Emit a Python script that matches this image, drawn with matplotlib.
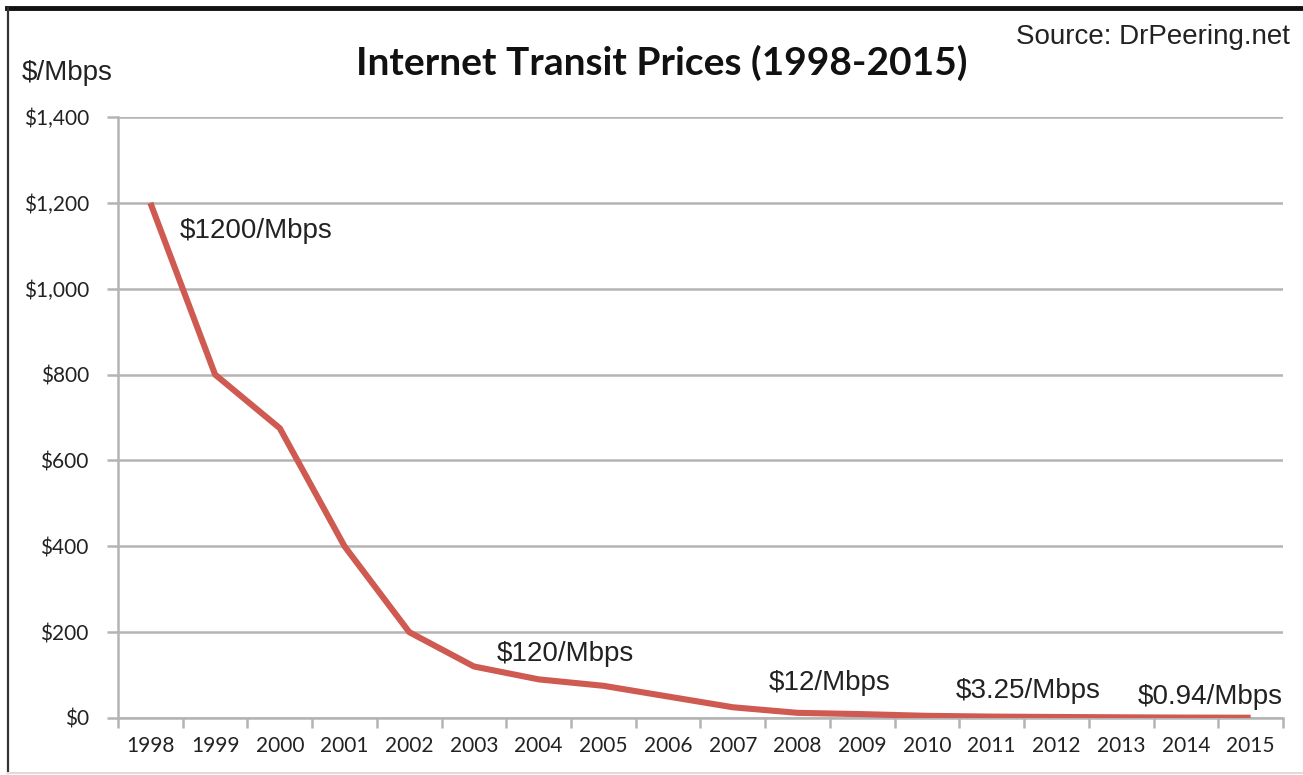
"""Internet transit prices 1998-2015 (DrPeering) — line chart recreation."""
import matplotlib

matplotlib.use("Agg")
import matplotlib.pyplot as plt  # noqa: E402
from matplotlib.lines import Line2D  # noqa: E402
from matplotlib.ticker import FuncFormatter, MultipleLocator  # noqa: E402

years = [str(y) for y in range(1998, 2016)]
price = [1200, 800, 675, 400, 200, 120, 90, 75, 50, 25, 12, 9, 5, 3.25,
         2.34, 1.57, 0.94, 0.63]

# callouts: (text, x position in category units, y value)
callouts = [
    ("$1200/Mbps", 0.95, 1135),
    ("$120/Mbps", 5.85, 150),
    ("$12/Mbps", 10.05, 82),
    ("$3.25/Mbps", 12.95, 63),
    ("$0.94/Mbps", 15.75, 48),
]

RED = "#cf5a52"
GRID = "#b4b4b4"
TXT = "#222222"
TICK_FONT = ["Lato", "DejaVu Sans"]
ARIAL = ["Liberation Sans", "DejaVu Sans"]

fig = plt.figure(figsize=(13.03, 7.75), dpi=100)
ax = fig.add_axes([118 / 1303, 57 / 775, 1165 / 1303, 601 / 775])

x = [i + 0.5 for i in range(len(years))]
ax.plot(x, price, color=RED, lw=4.4, solid_joinstyle="round",
        solid_capstyle="butt", zorder=3)

ax.set_xlim(0, len(years))
ax.set_ylim(0, 1400)
ax.yaxis.set_major_locator(MultipleLocator(200))
ax.yaxis.set_major_formatter(FuncFormatter(lambda v, _: f"${v:,.0f}"))
ax.set_xticks(range(len(years) + 1))
ax.set_xticklabels([])
ax.set_xticks(x, minor=True)
ax.set_xticklabels(years, minor=True)

ax.grid(axis="y", color=GRID, lw=1.8, zorder=0)
for s in ("top", "right"):
    ax.spines[s].set_visible(False)
for s in ("left", "bottom"):
    ax.spines[s].set_color(GRID)
    ax.spines[s].set_linewidth(1.8)
ax.tick_params(axis="y", which="major", length=8, width=1.8, color=GRID,
               pad=13, labelsize=15, labelcolor=TXT)
ax.tick_params(axis="x", which="major", length=7, width=1.8, color=GRID,
               direction="out")
ax.tick_params(axis="x", which="minor", length=0, pad=13, labelsize=15,
               labelcolor=TXT)
for lab in ax.get_yticklabels() + ax.get_xticklabels(minor=True):
    lab.set_family(TICK_FONT)

for text, cx, cy in callouts:
    ax.text(cx, cy, text, fontsize=20, family=ARIAL, color=TXT,
            ha="left", va="center", zorder=4, clip_on=False)

fig.text(0.508, 1 - 63 / 775, "Internet Transit Prices (1998-2015)",
         ha="center", va="center", fontsize=28, fontweight="bold",
         family=TICK_FONT, color="#111111")
fig.text(22 / 1303, 1 - 73 / 775, "$/Mbps", ha="left", va="center",
         fontsize=20, family=ARIAL, color=TXT)
fig.text(1290 / 1303, 1 - 37 / 775, "Source: DrPeering.net", ha="right",
         va="center", fontsize=20, family=ARIAL, color=TXT)

# outer frame of the screenshot
fig.add_artist(Line2D([7 / 1303, 1], [1 - 8 / 775] * 2, color="#111111",
                      lw=3.5, transform=fig.transFigure))
fig.add_artist(Line2D([8 / 1303] * 2, [2 / 775, 1 - 8 / 775], color="#333333",
                      lw=1.6, transform=fig.transFigure))
fig.add_artist(Line2D([8 / 1303, 1], [2 / 775] * 2, color="#dddddd",
                      lw=1.5, transform=fig.transFigure))

fig.savefig("out.png", dpi=100)
